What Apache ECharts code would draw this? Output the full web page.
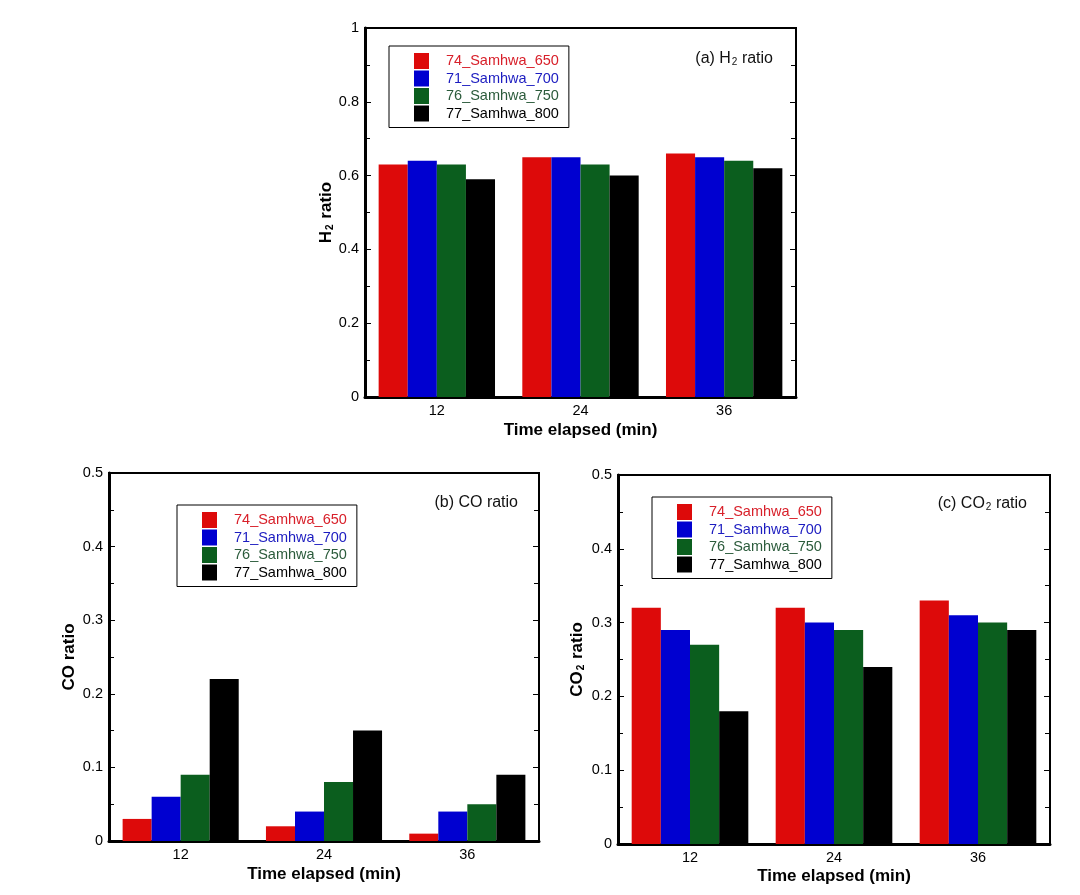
<!DOCTYPE html>
<html><head><meta charset="utf-8">
<script src="https://cdn.jsdelivr.net/npm/echarts@6/dist/echarts.min.js"></script>
<style>html,body{margin:0;padding:0;background:#fff}#c{width:1080px;height:895px}</style>
</head><body><div id="c"></div>
<script>
const categories = ['12', '24', '36'];
const seriesNames = ['74_Samhwa_650', '71_Samhwa_700', '76_Samhwa_750', '77_Samhwa_800'];
// (a) H2 ratio
const h2_650 = [0.63, 0.65, 0.66];
const h2_700 = [0.64, 0.65, 0.65];
const h2_750 = [0.63, 0.63, 0.64];
const h2_800 = [0.59, 0.60, 0.62];
// (b) CO ratio
const co_650 = [0.03, 0.02, 0.01];
const co_700 = [0.06, 0.04, 0.04];
const co_750 = [0.09, 0.08, 0.05];
const co_800 = [0.22, 0.15, 0.09];
// (c) CO2 ratio
const co2_650 = [0.32, 0.32, 0.33];
const co2_700 = [0.29, 0.30, 0.31];
const co2_750 = [0.27, 0.29, 0.30];
const co2_800 = [0.18, 0.24, 0.29];

const barColors = ['#dd0a0a', '#0000d0', '#0b5e1e', '#000000'];
const legendTextColors = ['#d8202a', '#1c1cc0', '#2b5b3b', '#000000'];
const FONT = '"Liberation Sans", Arial, sans-serif';

const panels = [
  { grid: { left: 365, top: 28, width: 431, height: 369 }, max: 1, interval: 0.2,
    data: [h2_650, h2_700, h2_750, h2_800], yName: 'H{s|2} ratio', yGap: 28, xGap: 25,
    legend: { left: 389, top: 46 }, title: '(a) H{s|2} ratio', titlePos: { right: 302, top: 46 } },
  { grid: { left: 109, top: 473, width: 430, height: 368 }, max: 0.5, interval: 0.1,
    data: [co_650, co_700, co_750, co_800], yName: 'CO ratio', yGap: 31, xGap: 25,
    legend: { left: 177, top: 505 }, title: '(b) CO ratio', titlePos: { right: 557, top: 490 } },
  { grid: { left: 618, top: 475, width: 432, height: 369 }, max: 0.5, interval: 0.1,
    data: [co2_650, co2_700, co2_750, co2_800], yName: 'CO{s|2} ratio', yGap: 32, xGap: 24,
    legend: { left: 652, top: 497 }, title: '(c) CO{s|2} ratio', titlePos: { right: 48, top: 491 } }
];

const grids = [], xAxes = [], yAxes = [], series = [], legends = [], titles = [];
const tickStyle = { color: '#000', width: 1 };
panels.forEach((p, g) => {
  grids.push(Object.assign({ show: true, borderColor: '#000', borderWidth: 2, backgroundColor: 'transparent' }, p.grid));
  xAxes.push({
    type: 'category', gridIndex: g, data: categories, position: 'bottom',
    axisLine: { lineStyle: { color: '#000', width: 3 } },
    axisTick: { inside: true, length: 6, lineStyle: tickStyle },
    axisLabel: { color: '#000', fontFamily: FONT, fontSize: 14.5, margin: 6 },
    name: 'Time elapsed (min)', nameLocation: 'middle', nameGap: p.xGap,
    nameTextStyle: { color: '#000', fontFamily: FONT, fontSize: 17, fontWeight: 'bold' }
  });
  xAxes.push({
    type: 'category', gridIndex: g, data: categories, position: 'top',
    axisLine: { lineStyle: { color: '#000', width: 2 } },
    axisTick: { inside: true, length: 6, lineStyle: tickStyle },
    axisLabel: { show: false }
  });
  const yBase = {
    type: 'value', gridIndex: g, min: 0, max: p.max, interval: p.interval,
    splitLine: { show: false },
    axisTick: { show: true, inside: true, length: 6, lineStyle: tickStyle },
    minorTick: { show: true, splitNumber: 2, length: 5, lineStyle: tickStyle }
  };
  yAxes.push(Object.assign({}, yBase, {
    position: 'left',
    axisLine: { show: true, lineStyle: { color: '#000', width: 3 } },
    axisLabel: { color: '#000', fontFamily: FONT, fontSize: 14.5, margin: 6 },
    name: p.yName, nameLocation: 'middle', nameRotate: 90, nameGap: p.yGap,
    nameTextStyle: { color: '#000', fontFamily: FONT, fontSize: 17, fontWeight: 'bold',
      rich: { s: { fontSize: 10, fontWeight: 'bold', fontFamily: FONT, color: '#000', verticalAlign: 'bottom', padding: [5, 1, 0, 1] } } }
  }));
  yAxes.push(Object.assign({}, yBase, {
    position: 'right',
    axisLine: { show: true, lineStyle: { color: '#000', width: 2 } },
    axisLabel: { show: false }
  }));
  p.data.forEach((d, i) => {
    series.push({
      type: 'bar', name: seriesNames[i], xAxisIndex: 2 * g, yAxisIndex: 2 * g, data: d,
      itemStyle: { color: barColors[i] }, barGap: '0%', barCategoryGap: '19%', silent: true
    });
  });
  legends.push(Object.assign({
    orient: 'vertical', align: 'left', icon: 'rect', itemWidth: 15, itemHeight: 16, itemGap: 1.5,
    padding: [7, 10, 6, 25], borderColor: '#000', borderWidth: 1, selectedMode: false,
    textStyle: { fontFamily: FONT, fontSize: 14.5, padding: [0, 0, 0, 12] },
    data: seriesNames.map((n, i) => ({ name: n, textStyle: { color: legendTextColors[i] } }))
  }, p.legend));
  titles.push(Object.assign({
    text: p.title,
    textStyle: { color: '#111', fontFamily: FONT, fontSize: 16, fontWeight: 'normal',
      rich: { s: { fontSize: 10, fontFamily: FONT, color: '#111', verticalAlign: 'bottom', padding: [4, 0, 0, 1] } } }
  }, p.titlePos));
});

const chart = echarts.init(document.getElementById('c'), null, { renderer: 'canvas' });
chart.setOption({
  animation: false, backgroundColor: '#fff',
  title: titles, grid: grids, xAxis: xAxes, yAxis: yAxes, legend: legends, series: series
});
</script></body></html>
